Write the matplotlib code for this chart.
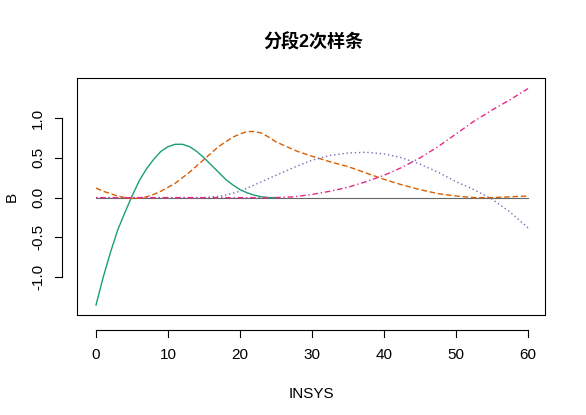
import matplotlib
matplotlib.use("Agg")
import matplotlib.pyplot as plt
import matplotlib.transforms as mtrans

plt.rcParams['font.family'] = ['Liberation Sans', 'Noto Sans CJK SC', 'DejaVu Sans']

x1 = [0, 1, 2, 3, 4, 5, 6, 7, 8, 9, 10, 11, 12, 13, 14, 15, 16, 17, 18, 19, 20, 21, 22, 23, 24, 25]
b1 = [-1.35, -1.0, -0.69, -0.41, -0.19, 0.02, 0.21, 0.36, 0.48, 0.58, 0.64, 0.67, 0.67, 0.64,
      0.58, 0.50, 0.41, 0.32, 0.23, 0.16, 0.10, 0.06, 0.03, 0.01, 0.0, 0.0]
x2 = [0, 1, 2, 3, 4, 5, 6, 7, 8, 9, 10, 11, 12, 13, 14, 15, 16, 17, 18, 19, 20, 21, 22, 23, 24,
      25, 26, 28, 30, 32.5, 35, 37.5, 40, 42.5, 45, 47.5, 50, 52.5, 55, 57.5, 60]
b2 = [0.12, 0.08, 0.05, 0.02, 0.0, -0.01, -0.005, 0.01, 0.04, 0.08, 0.13, 0.18, 0.25, 0.32, 0.40,
      0.48, 0.56, 0.64, 0.70, 0.76, 0.80, 0.83, 0.83, 0.81, 0.76, 0.70, 0.66, 0.58, 0.52, 0.45,
      0.39, 0.31, 0.23, 0.16, 0.10, 0.05, 0.02, 0.0, 0.0, 0.01, 0.02]
x3 = [0, 15, 17.5, 20, 22.5, 25, 27.5, 30, 32.5, 35, 37.5, 40, 42.5, 45, 47.5, 50, 52.5, 55,
      57.5, 60]
b3 = [0, 0, 0.02, 0.08, 0.18, 0.28, 0.38, 0.47, 0.53, 0.56, 0.57, 0.55, 0.5, 0.42, 0.32, 0.2,
      0.1, -0.02, -0.18, -0.38]
x4 = [0, 25, 27.5, 30, 32.5, 35, 37.5, 40, 42.5, 45, 47.5, 50, 52.5, 55, 57.5, 60]
b4 = [0, 0, 0.01, 0.04, 0.08, 0.13, 0.2, 0.28, 0.38, 0.5, 0.64, 0.8, 0.96, 1.1, 1.23, 1.37]
xticks = [0, 10, 20, 30, 40, 50, 60]
yticks = [-1.0, -0.5, 0.0, 0.5, 1.0]

fig = plt.figure(figsize=(5.86, 4.15), dpi=100)
ax = fig.add_axes([77/586, 1-315/415, (545-77)/586, (315-78)/415])
ax.axhline(0, color='#666666', lw=0.8, xmin=(0+2.64)/65, xmax=(60+2.64)/65)
ax.plot(x1, b1, color='#1B9E77', lw=1, ls='-')
ax.plot(x2, b2, color='#D95F02', lw=1, ls=(0, (4, 2)))
ax.plot(x3, b3, color='#7570B3', lw=1, ls=(0, (1, 2)))
ax.plot(x4, b4, color='#E7298A', lw=1, ls=(0, (1, 2, 4, 2)))
ax.set_xlim(-2.64, 62.36)
ax.set_ylim(-1.475, 1.503)
ax.set_xticks(xticks)
ax.set_yticks(yticks)
ax.set_xticklabels([str(t) for t in xticks])
ax.set_yticklabels(['-1.0', '-0.5', '0.0', '0.5', '1.0'], rotation=90, ha='right', va='center')
ax.tick_params(direction='out', length=0, labelsize=11)
for s in ax.spines.values():
    s.set_linewidth(0.8)
tx = mtrans.blended_transform_factory(ax.transData, ax.transAxes)
ty = mtrans.blended_transform_factory(ax.transAxes, ax.transData)
oy = -15/237
ax.plot([xticks[0], xticks[-1]], [oy, oy], transform=tx, color='k', lw=0.8, clip_on=False)
for t in xticks:
    ax.plot([t, t], [oy, oy-7/237], transform=tx, color='k', lw=0.8, clip_on=False)
ox = -15/468
ax.plot([ox, ox], [yticks[0], yticks[-1]], transform=ty, color='k', lw=0.8, clip_on=False)
for t in yticks:
    ax.plot([ox, ox-7/468], [t, t], transform=ty, color='k', lw=0.8, clip_on=False)
ax.tick_params(axis='x', pad=24)
ax.tick_params(axis='y', pad=23)
ax.set_xlabel('INSYS', fontsize=11, labelpad=18)
ax.set_ylabel('B', fontsize=11, labelpad=14)
ax.yaxis.set_label_coords(-58/468, 0.5)
fig.text(0.535, 1-42/415, '分段2次样条', ha='center', va='center', fontsize=13, fontweight='bold')
fig.savefig('out.png', dpi=100)
